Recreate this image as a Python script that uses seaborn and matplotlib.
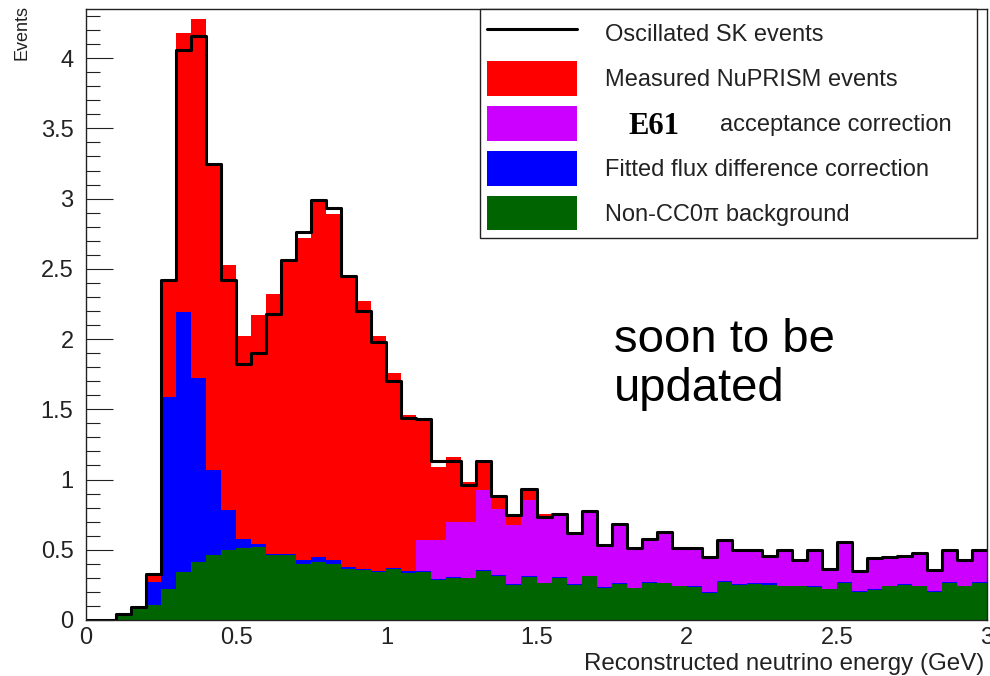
import numpy as np
import pandas as pd
import matplotlib
matplotlib.use("Agg")
import matplotlib.pyplot as plt
import seaborn as sns
from matplotlib.patches import Patch
from matplotlib.lines import Line2D
from matplotlib.ticker import MultipleLocator, FuncFormatter

# Reconstructed-energy binning (GeV)
bin_edges = [round(0.05 * i, 3) for i in range(61)]
bin_centers = [round(0.05 * i + 0.025, 4) for i in range(60)]

# Stacked components, events per bin
background = [0.0, 0.0, 0.025, 0.075, 0.11, 0.22, 0.34, 0.41, 0.46, 0.50,
              0.51, 0.52, 0.46, 0.46, 0.40, 0.41, 0.40, 0.36, 0.355, 0.345,
              0.36, 0.335, 0.344, 0.285, 0.30, 0.297, 0.35, 0.315, 0.25, 0.305,
              0.26, 0.30, 0.25, 0.31, 0.23, 0.255, 0.225, 0.265, 0.26, 0.24,
              0.235, 0.195, 0.27, 0.25, 0.255, 0.25, 0.242, 0.242, 0.237, 0.218,
              0.266, 0.20, 0.215, 0.242, 0.25, 0.242, 0.20, 0.266, 0.242, 0.266]
flux_corr = [0.0, 0.0, 0.01, 0.015, 0.16, 1.37, 1.85, 1.31, 0.61, 0.28,
             0.07, 0.02, 0.01, 0.01, 0.03, 0.04, 0.03, 0.015, 0.005, 0.005,
             0.01, 0.015, 0.006, 0.005, 0.005, 0.003, 0.005, 0.005, 0.005, 0.005,
             0.005, 0.005, 0.005, 0.005, 0.005, 0.005, 0.005, 0.005, 0.005, 0.005,
             0.005, 0.005, 0.005, 0.005, 0.005, 0.01, 0.003, 0.003, 0.003, 0.002,
             0.004, 0.005, 0.005, 0.003, 0.005, 0.003, 0.005, 0.004, 0.003, 0.004]
accept_corr = [0.0, 0.0, 0.0, 0.0, 0.0, 0.0, 0.0, 0.0, 0.0, 0.0,
               0.0, 0.0, 0.0, 0.0, 0.0, 0.0, 0.0, 0.0, 0.0, 0.0,
               0.0, 0.0, 0.22, 0.28, 0.395, 0.40, 0.57, 0.47, 0.42, 0.545,
               0.465, 0.445, 0.365, 0.46, 0.30, 0.425, 0.28, 0.31, 0.365, 0.265,
               0.27, 0.25, 0.295, 0.245, 0.24, 0.195, 0.255, 0.185, 0.26, 0.14,
               0.285, 0.145, 0.22, 0.205, 0.20, 0.235, 0.15, 0.23, 0.18, 0.23]
nuprism = [0.0, 0.0, 0.005, 0.01, 0.06, 0.83, 1.99, 2.56, 2.18, 1.75,
           1.44, 1.63, 1.85, 2.09, 2.29, 2.54, 2.46, 2.075, 1.91, 1.67,
           1.39, 1.11, 0.86, 0.52, 0.46, 0.28, 0.215, 0.09, 0.075, 0.085,
           0.025, 0.01, 0.0, 0.005, 0.0, 0.0, 0.0, 0.0, 0.0, 0.0,
           0.0, 0.0, 0.0, 0.0, 0.0, 0.0, 0.0, 0.0, 0.0, 0.0,
           0.0, 0.0, 0.0, 0.0, 0.0, 0.0, 0.0, 0.0, 0.0, 0.0]

# Oscillated far-detector prediction
sk_osc = [0.0, 0.0, 0.04, 0.09, 0.33, 2.42, 4.06, 4.16, 3.25, 2.42,
          1.82, 1.90, 2.18, 2.56, 2.76, 2.99, 2.93, 2.45, 2.20, 1.98,
          1.70, 1.44, 1.43, 1.13, 1.13, 0.96, 1.13, 0.88, 0.75, 0.93,
          0.735, 0.755, 0.62, 0.775, 0.535, 0.68, 0.51, 0.58, 0.63, 0.51,
          0.51, 0.45, 0.57, 0.50, 0.50, 0.455, 0.50, 0.43, 0.50, 0.36,
          0.555, 0.35, 0.44, 0.45, 0.455, 0.48, 0.355, 0.50, 0.425, 0.50]

lbl_sk = "Oscillated SK events"
lbl_nup = "Measured NuPRISM events"
lbl_acc = "acceptance correction"
lbl_flux = "Fitted flux difference correction"
lbl_bkg = "Non-CC0\u03c0 background"

colors = {lbl_nup: "#ff0000", lbl_acc: "#cc00ff",
          lbl_flux: "#0000ff", lbl_bkg: "#006400"}

# first hue level ends up on top of the stack
stack_order = [lbl_nup, lbl_acc, lbl_flux, lbl_bkg]
stack_values = {lbl_nup: nuprism, lbl_acc: accept_corr,
                lbl_flux: flux_corr, lbl_bkg: background}

df = pd.DataFrame({
    "energy": np.tile(bin_centers, len(stack_order)),
    "events": np.concatenate([stack_values[k] for k in stack_order]),
    "component": np.repeat(stack_order, len(bin_centers)),
})
sk_df = pd.DataFrame({"energy": bin_centers, "events": sk_osc})

sns.set_theme(style="white")
plt.rcParams["font.family"] = ["Liberation Sans", "DejaVu Sans"]

fig = plt.figure(figsize=(9.9, 6.76), dpi=100)
ax = fig.add_axes([86 / 990, 56 / 676, 901 / 990, 611 / 676])

sns.histplot(data=df, x="energy", weights="events", hue="component",
             hue_order=stack_order, palette=colors, multiple="stack",
             bins=bin_edges, element="step", fill=True, alpha=1,
             linewidth=0, legend=False, ax=ax)
sns.histplot(data=sk_df, x="energy", weights="events", bins=bin_edges,
             element="step", fill=False, color="black", linewidth=2.2, ax=ax)

ax.set_xlim(0, 3)
ax.set_ylim(0, 4.35)

ax.xaxis.set_major_locator(MultipleLocator(0.5))
ax.yaxis.set_major_locator(MultipleLocator(0.5))
ax.yaxis.set_minor_locator(MultipleLocator(0.1))
fmt = FuncFormatter(lambda v, _: f"{v:g}")
ax.xaxis.set_major_formatter(fmt)
ax.yaxis.set_major_formatter(fmt)

ax.tick_params(axis="y", which="major", direction="in", length=19.5,
               width=0.8, color="black", labelsize=17, pad=9, left=True)
ax.tick_params(axis="y", which="minor", direction="in", length=10,
               width=0.8, color="black", left=True)
ax.tick_params(axis="x", which="both", length=0, labelsize=17, pad=5)
ax.tick_params(colors="#222222", which="both", labelcolor="#222222")

for sp in ax.spines.values():
    sp.set_color("#222222")
    sp.set_linewidth(1.0)

ax.set_xlabel("Reconstructed neutrino energy (GeV)", fontsize=17.4,
              color="#222222")
ax.xaxis.set_label_coords(0.9975, -0.0545)
ax.xaxis.label.set_horizontalalignment("right")
ax.set_ylabel("Events", fontsize=13, color="#222222")
ax.yaxis.set_label_coords(-0.062, 1.006)
ax.yaxis.label.set_horizontalalignment("right")

handles = [Line2D([], [], color="black", linewidth=2.2),
           Patch(facecolor=colors[lbl_nup], edgecolor="none"),
           Patch(facecolor=colors[lbl_acc], edgecolor="none"),
           Patch(facecolor=colors[lbl_flux], edgecolor="none"),
           Patch(facecolor=colors[lbl_bkg], edgecolor="none")]
labels = [lbl_sk, lbl_nup, lbl_acc, lbl_flux, lbl_bkg]
leg = ax.legend(handles, labels, loc="upper left",
                bbox_to_anchor=(394 / 901, 0.0, 497 / 901, 1.0),
                mode="expand", borderaxespad=0, fontsize=17,
                handlelength=3.8, handleheight=1.9, labelspacing=0.42,
                handletextpad=1.2, borderpad=0.3, frameon=True,
                fancybox=False, framealpha=1, edgecolor="#222222")
leg.get_frame().set_linewidth(1.0)
for t in leg.get_texts():
    t.set_color("#222222")

# widen the gap before the acceptance-correction label to leave room for "E61"
try:
    column = leg._legend_handle_box.get_children()[0]
    column.get_children()[2].sep = 103
except (AttributeError, IndexError):
    pass

fig.text(628 / 990, 1 - 127 / 676, "E61", fontfamily="Liberation Serif",
         fontweight="bold", fontsize=22, va="center", ha="left",
         color="black")

fig.text(614 / 990, 1 - 318 / 676, "soon to be\nupdated", fontsize=34,
         va="top", ha="left", linespacing=1.14, color="black")

fig.savefig("out.png", dpi=100)
